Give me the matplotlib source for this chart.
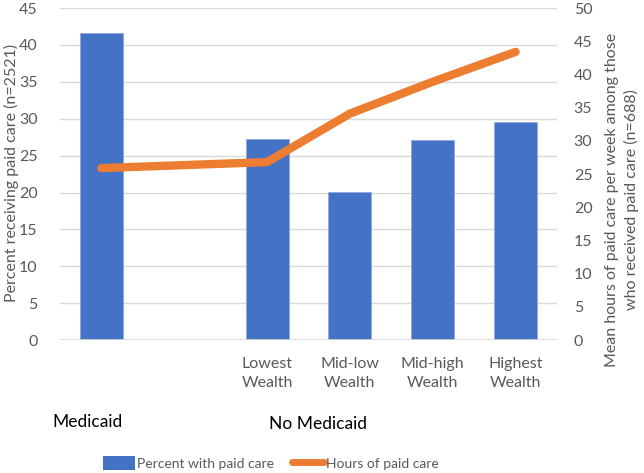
import numpy as np
import matplotlib.pyplot as plt
from matplotlib.lines import Line2D
from matplotlib.patches import Patch

# one empty slot between Medicaid and the wealth groups
tick_labels = ["", "", "Lowest\nWealth", "Mid-low\nWealth", "Mid-high\nWealth", "Highest\nWealth"]
percent_paid = [41.6, np.nan, 27.3, 20.1, 27.1, 29.5]
hours_paid = [25.9, np.nan, 26.8, 34.1, 38.9, 43.4]
group_labels = ["Medicaid", "No Medicaid"]

BLUE = "#4472C4"
ORANGE = "#ED7D31"
GRAY = "#595959"

plt.rcParams["font.family"] = ["Lato", "DejaVu Sans"]


def main() -> None:
    fig = plt.figure(figsize=(6.44, 4.73), dpi=100)
    ax = fig.add_axes([0.093, 0.281, 0.772, 0.702])
    ax2 = ax.twinx()

    x = np.arange(len(tick_labels))
    pct = np.array(percent_paid, dtype=float)
    hrs = np.array(hours_paid, dtype=float)

    ok = ~np.isnan(pct)
    ax.bar(x[ok], pct[ok], width=0.52, color=BLUE, edgecolor="#8FAADC",
           linewidth=0.6, zorder=2)
    ax.axhline(0, color="#D9D9D9", linewidth=1.2, zorder=3)

    ok = ~np.isnan(hrs)
    ax2.plot(x[ok], hrs[ok], color=ORANGE, linewidth=6,
             solid_capstyle="round", solid_joinstyle="round", zorder=4)

    ax.set_xlim(-0.5, len(tick_labels) - 0.5)
    ax.set_ylim(0, 45)
    ax.set_yticks(np.arange(0, 46, 5))
    ax2.set_ylim(0, 50)
    ax2.set_yticks(np.arange(0, 51, 5))
    ax.set_xticks(x)
    ax.set_xticklabels(tick_labels, linespacing=1.5)

    ax.grid(axis="y", color="#D9D9D9", linewidth=1, zorder=0)
    ax.set_axisbelow(True)
    for a in (ax, ax2):
        for s in a.spines.values():
            s.set_visible(False)
        a.tick_params(length=0, labelsize=11.5, labelcolor=GRAY)
    ax.tick_params(axis="y", pad=16)
    ax.tick_params(axis="x", pad=12)
    ax2.tick_params(axis="y", pad=12)

    fig.text(11 / 644, 1 - 173 / 473, "Percent receiving paid care (n=2521)",
             fontsize=11.5, color=GRAY, rotation=90, ha="center", va="center")
    fig.text(622 / 644, 1 - 200 / 473,
             "Mean hours of paid care per week among those\n"
             "who received paid care (n=688)",
             fontsize=11.5, color=GRAY, rotation=90, ha="center", va="center",
             multialignment="center", linespacing=1.35)

    # group labels below the category ticks
    fig.text(88 / 644, 1 - 422 / 473, group_labels[0], fontsize=12.5,
             ha="center", va="center", color="black")
    fig.text(318 / 644, 1 - 424 / 473, group_labels[1], fontsize=12.5,
             ha="center", va="center", color="black")

    handles = [Patch(facecolor=BLUE, edgecolor="none"),
               Line2D([0], [0], color=ORANGE, linewidth=5, solid_capstyle="round")]
    fig.legend(handles, ["Percent with paid care", "Hours of paid care"],
               loc="center", bbox_to_anchor=(271 / 644, 1 - 463 / 473),
               ncol=2, frameon=False, fontsize=10, labelcolor=GRAY,
               handlelength=2.3, handleheight=1.1, handletextpad=0.15,
               columnspacing=1.3)

    fig.savefig("out.png", dpi=100)


if __name__ == "__main__":
    main()
